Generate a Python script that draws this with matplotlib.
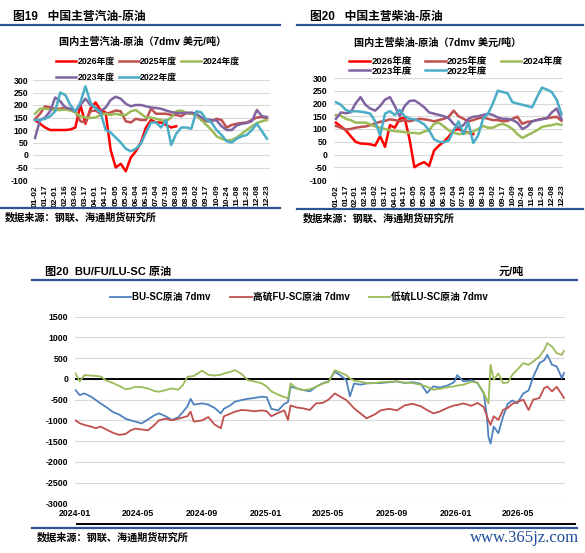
import matplotlib
matplotlib.use("Agg")
import matplotlib.pyplot as plt
import matplotlib.dates as mdates
from matplotlib.lines import Line2D
import numpy as np
import pandas as pd

plt.rcParams['font.family'] = ['Liberation Sans', 'Noto Sans CJK SC']
plt.rcParams['font.weight'] = 'bold'
plt.rcParams['axes.unicode_minus'] = False

# ---------------- data ----------------
day_labels = ['01-02', '01-17', '02-01', '02-16', '03-02', '03-17', '04-01', '04-17',
              '05-05', '05-20', '06-04', '06-19', '07-04', '07-19', '08-03', '08-18',
              '09-02', '09-17', '10-09', '10-24', '11-08', '11-23', '12-08', '12-23']
year_names = ['2026年度', '2025年度', '2024年度', '2023年度', '2022年度']
year_colors = ['#ff0000', '#c0504d', '#9bbb59', '#8064a2', '#4bacc6']

# 汽油-原油, one value every half label step
gas_2026 = [140, 125, 110, 100, 100, 100, 100, 102, 110, 200, 125, 185, 210, 180, 170,
            20, -50, -35, -65, -10, 15, 50, 110, 140, 130, 130, 120, 110, 115]
gas_2025 = [143, 165, 195, 190, 185, 185, 190, 180, 175, 135, 130, 175, 178, 165, 165, 170,
            178, 175, 135, 130, 145, 140, 140, 185, 165, 165, 165, 160, 160, 155, 168, 165,
            160, 140, 135, 135, 145, 140, 110, 120, 125, 128, 130, 140, 150, 152, 148]
gas_2024 = [165, 185, 185, 182, 180, 180, 182, 178, 170, 155, 150, 148, 150, 160, 165, 160,
            165, 160, 160, 175, 180, 165, 150, 150, 145, 140, 135, 150, 175, 178, 170, 165,
            160, 140, 120, 100, 75, 65, 58, 60, 70, 85, 100, 115, 128, 135, 140]
gas_2023 = [68, 140, 150, 175, 230, 215, 190, 185, 175, 200, 225, 200, 190, 175, 190, 220,
            233, 225, 205, 195, 200, 200, 195, 190, 188, 185, 178, 172, 168, 168, 168, 170,
            165, 150, 142, 140, 138, 115, 100, 100, 118, 125, 128, 135, 180, 155, 152]
gas_2022 = [140, 140, 145, 155, 175, 250, 240, 200, 175, 210, 275, 210, 185, 170, 100, 90,
            70, 50, 25, 15, 25, 45, 90, 130, 130, 110, 140, 40, 85, 110, 110, 105,
            175, 170, 140, 130, 100, 80, 55, 50, 65, 75, 80, 100, 125, 95, 65]

# 柴油-原油
die_2026 = [125, 110, 95, 72, 50, 43, 42, 40, 35, 72, 30, 115, 105, 140, 145,
            60, -50, -38, -30, -45, 15, 35, 50, 70, 95, 100, 90, 85, 80]
die_2025 = [112, 105, 98, 100, 105, 108, 110, 115, 122, 128, 132, 138, 135, 130, 135, 130,
            135, 140, 138, 135, 130, 135, 140, 148, 172, 150, 140, 130, 135, 142, 145, 140,
            135, 135, 130, 132, 140, 148, 120, 128, 130, 135, 140, 142, 145, 148, 132]
die_2024 = [155, 152, 140, 135, 125, 125, 125, 118, 110, 105, 100, 95, 92, 90, 88, 85,
            85, 82, 90, 95, 120, 125, 110, 95, 85, 80, 82, 85, 90, 100, 112, 105,
            105, 115, 120, 112, 100, 80, 65, 75, 85, 95, 108, 112, 115, 120, 116]
die_2023 = [140, 165, 162, 165, 200, 225, 195, 180, 172, 190, 215, 225, 190, 150, 190, 210,
            212, 200, 185, 165, 160, 155, 150, 142, 120, 105, 115, 140, 148, 150, 155, 160,
            155, 145, 140, 140, 135, 125, 100, 110, 130, 135, 138, 142, 165, 180, 138]
die_2022 = [205, 195, 175, 168, 170, 168, 165, 160, 130, 75, 160, 170, 155, 175, 150, 140,
            138, 130, 118, 95, 60, 50, 48, 55, 95, 130, 80, 125, 45, 75, 140, 160,
            200, 250, 245, 240, 205, 200, 195, 190, 185, 225, 262, 255, 245, 215, 158]

# BU/FU/LU-SC 价差 (元/吨)
spread_dates = ['2024-01-02', '2024-01-10', '2024-01-19', '2024-02-01', '2024-02-10', '2024-02-19',
                '2024-03-01', '2024-03-14', '2024-03-26', '2024-04-07', '2024-04-17', '2024-04-26',
                '2024-05-08', '2024-05-20', '2024-06-01', '2024-06-10', '2024-06-23', '2024-07-05',
                '2024-07-17', '2024-07-26', '2024-08-04', '2024-08-10', '2024-08-16', '2024-09-01',
                '2024-09-13', '2024-09-25', '2024-10-07', '2024-10-13', '2024-10-25', '2024-11-03',
                '2024-11-16', '2024-11-28', '2024-12-10', '2024-12-25', '2025-01-03', '2025-01-12',
                '2025-01-25', '2025-02-06', '2025-02-13', '2025-02-18', '2025-03-02', '2025-03-14',
                '2025-03-27', '2025-04-08', '2025-04-20', '2025-05-02', '2025-05-14', '2025-05-23',
                '2025-06-05', '2025-06-12', '2025-06-20', '2025-07-02', '2025-07-14', '2025-07-29',
                '2025-08-10', '2025-08-26', '2025-09-10', '2025-09-25', '2025-10-10', '2025-10-26',
                '2025-11-07', '2025-11-19', '2025-12-01', '2025-12-16', '2025-12-29', '2026-01-04',
                '2026-01-16', '2026-01-31', '2026-02-12', '2026-02-24', '2026-03-02', '2026-03-05',
                '2026-03-09', '2026-03-15', '2026-03-24', '2026-04-02', '2026-04-11', '2026-04-20',
                '2026-04-29', '2026-05-11', '2026-05-21', '2026-05-30', '2026-06-11', '2026-06-20',
                '2026-06-26', '2026-07-05', '2026-07-14', '2026-07-24', '2026-07-28']
bu_sc = [-270, -390, -350, -430, -510, -590, -680, -800, -860, -960, -1000, -1030,
         -1075, -980, -880, -830, -900, -990, -930, -800, -660, -480, -620, -590,
         -620, -700, -830, -720, -640, -550, -510, -480, -460, -430, -440, -720,
         -760, -600, -560, -190, -230, -270, -300, -190, -110, -60, 170, 100,
         -30, -420, -110, -140, -110, -100, -100, -80, -60, -100, -80, -120,
         -340, -180, -210, -160, -80, 90, -60, -30, -100, -350, -900, -1400,
         -1560, -1150, -1310, -910, -600, -520, -590, -350, -280, 50, 380, 450,
         580, 340, 300, 20, 140]
fu_sc = [-1000, -1070, -1110, -1150, -1190, -1150, -1220, -1300, -1350, -1330, -1240, -1200,
         -1220, -1240, -1120, -1000, -960, -1000, -960, -930, -900, -790, -1030, -1000,
         -920, -1100, -1190, -900, -840, -790, -750, -760, -780, -760, -780, -900,
         -820, -760, -990, -640, -690, -710, -750, -590, -580, -500, -350, -420,
         -510, -600, -710, -830, -950, -860, -760, -720, -760, -640, -600, -660,
         -750, -830, -790, -700, -640, -630, -590, -650, -580, -680, -900, -1000,
         -1110, -900, -990, -750, -700, -600, -560, -500, -750, -500, -460, -220,
         -185, -300, -190, -380, -460]
lu_sc = [130, -60, 90, 80, 70, 60, -40, -100, -170, -250, -230, -190,
         -200, -230, -290, -310, -270, -230, -260, -150, 50, 60, 70, 200,
         100, 80, 100, 130, 170, 210, 120, -30, -60, -110, -180, -300,
         -380, -440, -470, -110, -230, -270, -250, -190, -120, -70, 210, 160,
         90, 10, -40, -70, -100, -100, -80, -70, -60, -90, -100, -140,
         -190, -260, -240, -200, -180, -160, -140, -70, -90, -340, -500, -590,
         340, -20, 130, -100, -90, 100, 220, 380, 340, 420, 540, 700,
         860, 780, 620, 580, 680]
spread_names = ['BU-SC原油 7dmv', '高硫FU-SC原油 7dmv', '低硫LU-SC原油 7dmv']
spread_colors = ['#4f81bd', '#c0504d', '#9bbb59']

# ---------------- figure ----------------
W, H = 585, 553
fig = plt.figure(figsize=(W / 100, H / 100), dpi=100)
fig.patch.set_facecolor('white')


def box(x0, y0, x1, y1):
    # pixel box (top-left origin) -> figure fraction rect
    return [x0 / W, 1 - y1 / H, (x1 - x0) / W, (y1 - y0) / H]


def hline(x0, x1, y, color='#2f5496', lw=1.6):
    fig.add_artist(Line2D([x0 / W, x1 / W], [1 - y / H, 1 - y / H],
                          color=color, lw=lw, transform=fig.transFigure))


def ftext(x, y, s, **kw):
    fig.text(x / W, 1 - y / H, s, **kw)


grid_c = '#d9d9d9'


def year_panel(rect, series, xmax, ypad):
    ax = fig.add_axes(rect)
    handles = []
    for vals, name, col in zip(series, year_names, year_colors):
        xs = np.arange(len(vals)) * 0.5
        ln, = ax.plot(xs, vals, color=col, lw=1.8, label=name)
        handles.append(ln)
    ax.set_xlim(-0.2, xmax)
    ax.set_ylim(-100, 300)
    ax.set_yticks(range(-100, 301, 50))
    ax.set_xticks(range(len(day_labels)))
    ax.set_xticklabels(day_labels, rotation=90, fontsize=6, fontweight='bold')
    for t in ax.get_yticklabels():
        t.set_fontsize(6.3)
        t.set_fontweight('bold')
    ax.tick_params(axis='both', length=0)
    ax.tick_params(axis='y', pad=ypad)
    ax.tick_params(axis='x', pad=3.5)
    ax.grid(axis='y', color=grid_c, lw=0.8)
    ax.set_axisbelow(True)
    for s in ax.spines.values():
        s.set_visible(False)
    return ax, handles


# ---- 图19 汽油 ----
ax1, h1 = year_panel(box(33, 80, 270, 180),
                     [gas_2026, gas_2025, gas_2024, gas_2023, gas_2022], 23.3, 3.5)
ftext(13, 17, '图19   中国主营汽油-原油', fontsize=8.5, fontweight='bold', va='center')
hline(0, 280, 25)
ftext(143, 42, '国内主营汽油-原油（7dmv 美元/吨）', fontsize=7.3, fontweight='bold',
      ha='center', va='center')
order = [0, 3, 1, 4, 2]
fig.legend([h1[i] for i in order], [year_names[i] for i in order], ncol=3,
           loc='upper left', bbox_to_anchor=(56 / W, 1 - 57 / H), frameon=False,
           prop={'size': 6.3, 'weight': 'bold'}, handlelength=2.3, handletextpad=0.15,
           columnspacing=0.45, labelspacing=0.75, borderpad=0, borderaxespad=0)
hline(0, 280, 208)
ftext(5, 217, '数据来源：钢联、海通期货研究所', fontsize=7.3, fontweight='bold', va='center')

# ---- 图20 柴油 ----
ax2, h2 = year_panel(box(334, 78, 563, 180),
                     [die_2026, die_2025, die_2024, die_2023, die_2022], 23.15, 5)
ftext(310, 17, '图20   中国主营柴油-原油', fontsize=8.5, fontweight='bold', va='center')
hline(297, 583, 25)
ftext(438, 43, '国内主营柴油-原油（7dmv 美元/吨）', fontsize=7.3, fontweight='bold',
      ha='center', va='center')
fig.legend([h2[i] for i in order], [year_names[i] for i in order], ncol=3,
           loc='upper left', bbox_to_anchor=(349 / W, 1 - 57 / H), frameon=False,
           prop={'size': 6.8, 'weight': 'bold'}, handlelength=2.2, handletextpad=0.15,
           columnspacing=1.4, labelspacing=0.0, borderpad=0, borderaxespad=0)
hline(297, 583, 209)
ftext(303, 218, '数据来源：钢联、海通期货研究所', fontsize=7.3, fontweight='bold', va='center')

# ---- 图20 BU/FU/LU-SC ----
ax3 = fig.add_axes(box(75, 316.7, 564.5, 503.3))
dates = pd.to_datetime(spread_dates)
h3 = []
for vals, name, col in zip([bu_sc, fu_sc, lu_sc], spread_names, spread_colors):
    ln, = ax3.plot(dates, vals, color=col, lw=1.3, label=name)
    h3.append(ln)
ax3.axhline(0, color='black', lw=1.4, zorder=1)
ax3.set_xlim(pd.Timestamp('2024-01-01'), pd.Timestamp('2026-07-29'))
ax3.set_ylim(-3000, 1500)
ax3.set_yticks(range(-3000, 1501, 500))
ax3.xaxis.set_major_locator(mdates.MonthLocator(bymonth=[1, 5, 9]))
ax3.xaxis.set_major_formatter(mdates.DateFormatter('%Y-%m'))
for t in ax3.get_xticklabels() + ax3.get_yticklabels():
    t.set_fontsize(6.3)
    t.set_fontweight('bold')
ax3.tick_params(axis='both', length=0)
ax3.tick_params(axis='y', pad=5)
ax3.tick_params(axis='x', pad=4)
ax3.grid(axis='y', color=grid_c, lw=0.8)
ax3.set_axisbelow(True)
for s in ax3.spines.values():
    s.set_visible(False)

ftext(45, 272, '图20  BU/FU/LU-SC 原油', fontsize=8, fontweight='bold', va='center')
ftext(499, 272, '元/吨', fontsize=8, fontweight='bold', va='center')
hline(32, 577, 280)
fig.legend(h3, spread_names, ncol=3, loc='center left',
           bbox_to_anchor=(110 / W, 1 - 297 / H), frameon=False,
           prop={'size': 7, 'weight': 'bold'}, handlelength=2.2, handletextpad=0.1,
           columnspacing=2.0, borderpad=0, borderaxespad=0)
hline(77, 575, 524, color='black', lw=1.4)
hline(32, 577, 528)
ftext(37, 537, '数据来源：钢联、海通期货研究所', fontsize=7.3, fontweight='bold', va='center')
ftext(579, 538, 'www.365jz.com', fontsize=12, family='Liberation Serif',
      color='#1f4e9a', ha='right', va='center', fontweight='normal')

fig.savefig('out.png', dpi=100, facecolor='white')
